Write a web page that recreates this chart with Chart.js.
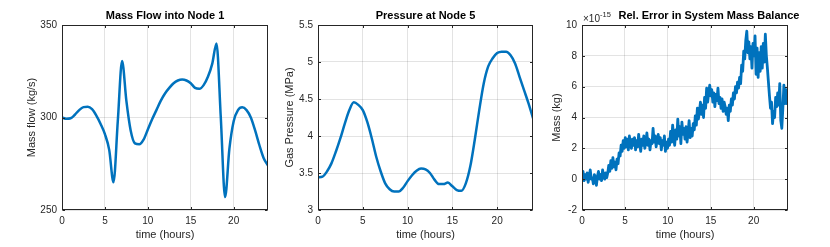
<!DOCTYPE html>
<html>
<head>
<meta charset="utf-8">
<script src="https://cdn.jsdelivr.net/npm/chart.js@4"></script>
<style>
    html, body { margin: 0; padding: 0; background: #fff; }
    #wrap { position: relative; width: 830px; height: 247px; overflow: hidden; }
    canvas { position: absolute; top: 0; }
</style>
</head>
<body>
<div id="wrap">
    <canvas id="c1" width="275" height="247" style="left:0px"></canvas>
    <canvas id="c2" width="265" height="247" style="left:275px"></canvas>
    <canvas id="c3" width="290" height="247" style="left:540px"></canvas>
</div>
<script>
// sample times (hours) for the two smooth plots
const hours = [0, 0.5, 1, 1.5, 2, 2.5, 3, 3.5, 4, 4.5, 5, 5.5, 6, 6.5, 7, 7.5, 8, 8.5, 9, 9.5,
    10, 10.5, 11, 11.5, 12, 12.5, 13, 13.5, 14, 14.5, 15, 15.5, 16, 16.5, 17, 17.5, 18, 18.5, 19, 19.5,
    20, 20.5, 21, 21.5, 22, 22.5, 23, 23.5, 24];

// mass flow into node 1 (kg/s)
const massFlow = [300, 299.3, 299.6, 301.5, 304, 305.6, 305.8, 304.5, 301, 296.5,
    291, 282.5, 265, 298, 330.5, 309, 293, 286, 285.5, 288,
    293.5, 299, 304, 309, 313, 316, 318.5, 320, 320.5, 320,
    318.5, 316, 315.5, 317.5, 322, 329, 340, 300, 257, 283,
    298, 304, 305.5, 304, 300, 293, 285, 278, 274];

// gas pressure at node 5 (MPa)
const pressure = [3.44, 3.45, 3.52, 3.63, 3.79, 3.97, 4.17, 4.35, 4.455, 4.42,
    4.35, 4.19, 3.97, 3.72, 3.52, 3.36, 3.28, 3.25, 3.25, 3.30,
    3.39, 3.47, 3.53, 3.56, 3.55, 3.50, 3.41, 3.35, 3.35, 3.37,
    3.32, 3.27, 3.26, 3.36, 3.59, 3.95, 4.35, 4.71, 4.94, 5.05,
    5.12, 5.14, 5.14, 5.09, 4.98, 4.80, 4.62, 4.44, 4.24];

// relative mass balance error, in units of 1e-15, sampled every errStep hours
const errStep = 0.12;
const massError = [
    0.2, 0.5, -0.1, 0.3, 0.0, 0.4, -0.2, 0.2, 0.6, 0.0, 0.1, -0.3, 0.3, 0.1, -0.4, 0.2, 0.5, 0.0, 0.3, -0.1, 0.6, 0.2, 0.0, 0.4, 0.1,
    0.4, 0.9, 0.5, 1.2, 0.7, 1.4, 0.8, 1.1, 0.6, 1.3, 1.0, 1.7, 1.5, 2.2, 1.8, 2.5, 2.0, 2.7, 2.1, 2.6, 1.9, 2.8, 2.3, 2.0, 2.6,
    2.2, 2.7, 1.9, 2.5, 2.1, 2.9, 2.3, 1.8, 2.6, 2.2, 2.8, 2.0, 2.4, 3.0, 2.2, 2.6, 1.9, 2.5, 2.3, 3.3, 2.4, 2.8, 2.1, 2.6, 2.9,
    2.3, 2.7, 1.9, 2.5, 2.2, 2.8, 1.8, 2.4, 2.0, 2.6, 2.2, 3.1, 2.4, 3.5, 2.7, 2.2, 3.2, 2.6, 3.9, 2.8, 3.4, 2.3, 3.7, 2.9, 3.3,
    2.6, 3.4, 2.4, 3.0, 3.8, 2.7, 3.3, 2.8, 3.6, 3.2, 4.1, 3.5, 4.6, 3.9, 4.4, 5.0, 4.2, 4.8, 4.0, 5.3, 4.6, 5.9, 5.0, 5.6, 6.1,
    5.4, 5.8, 5.0, 5.6, 4.7, 5.5, 5.1, 5.9, 4.9, 5.3, 4.6, 5.2, 4.4, 5.0, 4.7, 4.2, 4.6, 3.8, 4.8, 4.4, 5.2, 4.8, 5.6, 5.2, 6.0,
    5.6, 6.3, 5.9, 6.6, 6.2, 7.4, 7.0, 8.3, 7.8, 9.0, 9.6, 8.2, 8.9, 7.8, 8.6, 7.2, 8.8, 8.0, 9.3, 6.8, 8.5, 6.6, 8.2, 7.0, 8.6,
    7.2, 8.8, 7.6, 9.4, 8.0, 7.2, 6.3, 5.4, 4.6, 5.0, 3.6, 4.4, 4.0, 5.3, 4.7, 5.6, 4.8, 6.2, 3.8, 3.3, 4.6, 6.1, 4.9, 5.8, 4.9, 5.6
];

const FONT = '"Liberation Sans", Arial, Helvetica, sans-serif';
const AXIS = '#262626';
const GRID = 'rgba(38, 38, 38, 0.13)';
const LINE = '#0072BD';

// MATLAB-like box, inward ticks, centred title and exponent label
const matlabBox = {
    id: 'matlabBox',
    afterDraw(chart, args, opts) {
        const { ctx, chartArea: a, scales } = chart;
        const L = Math.round(a.left) + 0.5, T = Math.round(a.top) + 0.5;
        const R = Math.round(a.right) - 0.5, B = Math.round(a.bottom) - 0.5;
        ctx.save();
        ctx.strokeStyle = AXIS;
        ctx.lineWidth = 1;
        ctx.strokeRect(L, T, R - L, B - T);
        ctx.beginPath();
        scales.x.ticks.forEach(t => {
            const px = Math.round(scales.x.getPixelForValue(t.value)) + 0.5;
            ctx.moveTo(px, B); ctx.lineTo(px, B - 2.5);
            ctx.moveTo(px, T); ctx.lineTo(px, T + 2.5);
        });
        scales.y.ticks.forEach(t => {
            const py = Math.round(scales.y.getPixelForValue(t.value)) + 0.5;
            ctx.moveTo(L, py); ctx.lineTo(L + 2.5, py);
            ctx.moveTo(R, py); ctx.lineTo(R - 2.5, py);
        });
        ctx.stroke();

        ctx.fillStyle = '#000';
        ctx.font = 'bold 11px ' + FONT;
        ctx.textAlign = 'center';
        ctx.textBaseline = 'middle';
        ctx.fillText(opts.text, (a.left + a.right) / 2 + (opts.shift || 0), 16);

        if (opts.exponent) {
            ctx.fillStyle = AXIS;
            ctx.textAlign = 'left';
            ctx.textBaseline = 'alphabetic';
            ctx.font = '10px ' + FONT;
            ctx.fillText('\u00d710', a.left + 1, 22);
            const w = ctx.measureText('\u00d710').width;
            ctx.font = '7.5px ' + FONT;
            ctx.fillText(opts.exponent, a.left + 1 + w, 17);
        }
        ctx.restore();
    }
};

function makeChart(id, points, o) {
    return new Chart(document.getElementById(id), {
        type: 'line',
        data: {
            datasets: [{
                data: points,
                borderColor: LINE,
                borderWidth: o.lineWidth || 2.5,
                borderJoinStyle: 'round',
                borderCapStyle: 'round',
                pointRadius: 0,
                fill: false,
                cubicInterpolationMode: o.smooth ? 'monotone' : 'default',
                tension: 0
            }]
        },
        options: {
            responsive: false,
            animation: false,
            events: [],
            layout: { padding: { top: 25, right: o.right, left: 0, bottom: 0 } },
            plugins: {
                legend: { display: false },
                tooltip: { enabled: false },
                matlabBox: { text: o.title, shift: o.shift, exponent: o.exponent }
            },
            scales: {
                x: {
                    type: 'linear',
                    min: 0,
                    max: 24,
                    afterFit: s => { s.height = 37; },
                    border: { display: false },
                    grid: { color: GRID, drawTicks: false },
                    ticks: {
                        stepSize: 5,
                        includeBounds: false,
                        padding: 5,
                        maxRotation: 0,
                        color: AXIS,
                        font: { family: FONT, size: 10 }
                    },
                    title: {
                        display: true,
                        text: 'time (hours)',
                        color: AXIS,
                        font: { family: FONT, size: 11 },
                        padding: { top: 0, bottom: 5.4 }
                    }
                },
                y: {
                    type: 'linear',
                    min: o.yMin,
                    max: o.yMax,
                    afterFit: s => { s.width = o.yWidth; },
                    border: { display: false },
                    grid: { color: GRID, drawTicks: false },
                    ticks: {
                        stepSize: o.yStep,
                        padding: 5,
                        color: AXIS,
                        font: { family: FONT, size: 10 },
                        callback: v => String(+v.toFixed(2))
                    },
                    title: {
                        display: true,
                        text: o.yLabel,
                        color: AXIS,
                        font: { family: FONT, size: 11 },
                        padding: { top: o.yTitlePad, bottom: 0 }
                    }
                }
            }
        },
        plugins: [matlabBox]
    });
}

makeChart('c1', hours.map((h, i) => ({ x: h, y: massFlow[i] })), {
    title: 'Mass Flow into Node 1', yLabel: 'Mass flow (kg/s)',
    yMin: 250, yMax: 350, yStep: 50, yWidth: 62, yTitlePad: 25.4, right: 7, smooth: true
});

makeChart('c2', hours.map((h, i) => ({ x: h, y: pressure[i] })), {
    title: 'Pressure at Node 5', yLabel: 'Gas Pressure (MPa)',
    yMin: 3, yMax: 5.5, yStep: 0.5, yWidth: 43, yTitlePad: 8.4, right: 7, smooth: true
});

makeChart('c3', massError.map((v, i) => ({ x: i * errStep, y: v })), {
    title: 'Rel. Error in System Mass Balance', yLabel: 'Mass (kg)', shift: 24, exponent: '-15',
    yMin: -2, yMax: 10, yStep: 2, yWidth: 42, yTitlePad: 10.4, right: 42, lineWidth: 2.8
});
</script>
</body>
</html>
